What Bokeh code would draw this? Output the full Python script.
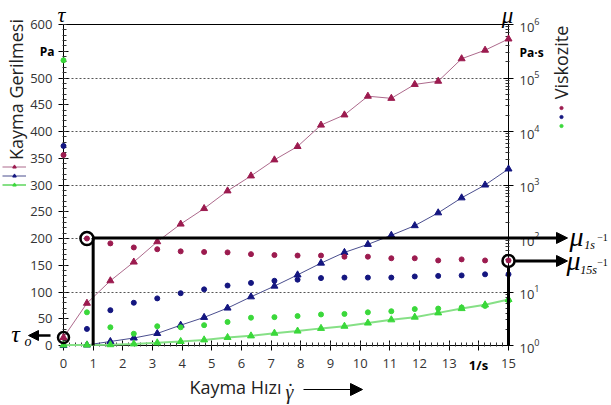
import math
from bokeh.plotting import figure
from bokeh.models import (Range1d, LogScale, LogAxis, FixedTicker, LogTickFormatter, Label,
                          Arrow, NormalHead, Legend, LegendItem, ColumnDataSource, GridBox)
from bokeh.embed import file_html
from bokeh.resources import INLINE

# ---------------- data ----------------
shear_rate = [0, 0.79, 1.58, 2.37, 3.16, 3.95, 4.74, 5.53, 6.32, 7.11,
              7.89, 8.68, 9.47, 10.26, 11.05, 11.84, 12.63, 13.42, 14.21, 15]
tau_red = [15, 79, 121, 156, 194, 227, 256, 289, 317, 347,
           372, 412, 431, 466, 462, 488, 494, 536, 552, 573]
tau_blue = [0, 1, 7.5, 14, 22.5, 38, 52.5, 70, 91, 111,
            132, 154, 174, 189, 206, 224, 248, 276, 300, 330]
tau_green = [1, 1, 1.5, 3, 5, 7.5, 10.5, 15, 18, 23,
             27, 32, 36, 42, 48, 53, 61, 69, 76, 86]
mu_red = [3630, 100, 81, 68, 63, 57.5, 56, 55, 51, 49,
          48, 48, 45.7, 45.7, 42.7, 42.7, 38.9, 40.7, 38.9, 38.9]
mu_blue = [5370, 2.04, 4.57, 6.3, 7.6, 9.5, 11.2, 13.2, 14.8, 16.2,
           17.0, 18.2, 18.6, 18.6, 18.6, 19.5, 20.0, 20.4, 21.4, 21.4]
mu_green = [214000, 4.17, 2.19, 1.66, 2.29, 2.19, 2.40, 2.75, 3.31, 3.39,
            3.55, 3.80, 3.89, 4.17, 4.37, 4.79, 4.90, 5.13, 5.50, 6.92]

tau_ticks = [0, 50, 100, 150, 200, 250, 300, 350, 400, 450, 500, 550, 600]
gamma_ticks = [0, 1, 2, 3, 4, 5, 6, 7, 8, 9, 10, 11, 12, 13, 14, 15]
mu_ticks = [1, 10, 100, 1000, 10000, 100000, 1000000]
grid_levels = [100, 200, 300, 400, 500]

gamma_1 = 1          # 1 1/s
mu1_level = 201      # viscosity at 1 1/s (left-axis units)
gamma_15 = 15
mu15_level = 158
circle_x = [0.79, 0, 15]
circle_y = [200, 15, 158]

# ---------------- geometry / style ----------------
W, H = 611, 405
FL, FR, FT, FB = 63, 508, 24, 345          # frame edges in page pixels
XR, YR, MUR = (0, 15), (0, 600), (1, 1e6)
SX = (FR - FL) / (XR[1] - XR[0])
SY = (FB - FT) / (YR[1] - YR[0])

def dx(xp):
    return XR[0] + (xp - FL) / SX

def dy(yp):
    return YR[0] + (FB - yp) / SY

RED, RED_L = "#9c1b4f", "#ad6a8c"
BLUE, BLUE_L = "#141680", "#4a4e8e"
GREEN, GREEN_L = "#3ad83a", "#86e086"
TXT = "#333333"
SANS = "Open Sans"
SERIF = "Liberation Serif"

# ---------------- base figure: axes + grid ----------------
base = figure(width=W, height=H, output_backend="svg", toolbar_location=None,
              x_range=Range1d(*XR), y_range=Range1d(*YR),
              min_border_left=FL, min_border_right=W - FR, min_border_top=FT,
              min_border_bottom=H - FB)
base.extra_y_ranges = {"mu": Range1d(*MUR)}
base.extra_y_scales = {"mu": LogScale()}
base.outline_line_color = "black"
base.background_fill_color = "white"
base.border_fill_color = "white"
base.xgrid.visible = False
base.ygrid.ticker = FixedTicker(ticks=grid_levels)
base.ygrid.grid_line_color = "#555555"
base.ygrid.grid_line_dash = "2 2"

def style_axis(ax):
    ax.axis_line_color = "black"
    ax.major_tick_line_color = "black"
    ax.minor_tick_line_color = "#333333"
    ax.major_tick_in = 5
    ax.major_tick_out = 5
    ax.minor_tick_in = 3
    ax.minor_tick_out = 1
    ax.major_label_text_font = SANS
    ax.major_label_text_font_size = "13px"
    ax.major_label_text_color = TXT

ya = base.yaxis[0]
ya.ticker = FixedTicker(ticks=tau_ticks, minor_ticks=list(range(0, 601, 10)))
ya.major_label_overrides = {550: ""}
ya.major_label_standoff = 6
style_axis(ya)

xa = base.xaxis[0]
xa.ticker = FixedTicker(ticks=gamma_ticks, minor_ticks=[i * 0.2 for i in range(76)])
xa.major_label_overrides = {14: ""}
xa.major_label_standoff = 8
style_axis(xa)

ra = LogAxis(y_range_name="mu")
ra.ticker = FixedTicker(ticks=mu_ticks,
                        minor_ticks=[k * 10 ** d for d in range(6) for k in range(2, 10)])
ra.formatter = LogTickFormatter(min_exponent=0)
ra.major_label_standoff = 6
style_axis(ra)
base.add_layout(ra, "right")

# ---------------- overlay figure: same mapping over the whole page ----------------
ox = (dx(0), dx(W))
oy = (dy(H), dy(0))
dec = (math.log10(MUR[1]) - math.log10(MUR[0])) / (YR[1] - YR[0])
omu = (10 ** (math.log10(MUR[0]) + (oy[0] - YR[0]) * dec),
       10 ** (math.log10(MUR[0]) + (oy[1] - YR[0]) * dec))

p = figure(width=W, height=H, output_backend="svg", toolbar_location=None,
           x_range=Range1d(*ox), y_range=Range1d(*oy),
           x_axis_location=None, y_axis_location=None, min_border=0,
           min_border_left=0, min_border_right=0, min_border_top=0, min_border_bottom=0)
p.extra_y_ranges = {"mu": Range1d(*omu)}
p.extra_y_scales = {"mu": LogScale()}
p.grid.visible = False
p.outline_line_color = None
p.background_fill_color = None
p.border_fill_color = None

for fig in (base, p):
    if "frame_align" in fig.properties():
        fig.frame_align = False

src = ColumnDataSource(dict(x=shear_rate, tr=tau_red, tb=tau_blue, tg=tau_green,
                            mr=mu_red, mb=mu_blue, mg=mu_green))

lr = p.line("x", "tr", source=src, color=RED_L, line_width=1)
lb = p.line("x", "tb", source=src, color=BLUE_L, line_width=1)
lg = p.line("x", "tg", source=src, color=GREEN_L, line_width=2)
tr = p.scatter("x", "tr", source=src, marker="triangle", size=7, color=RED)
tb = p.scatter("x", "tb", source=src, marker="triangle", size=7, color=BLUE)
tg = p.scatter("x", "tg", source=src, marker="triangle", size=7, color=GREEN)
dr = p.scatter("x", "mr", source=src, y_range_name="mu", marker="circle", size=5, color=RED)
db = p.scatter("x", "mb", source=src, y_range_name="mu", marker="circle", size=5, color=BLUE)
dg = p.scatter("x", "mg", source=src, y_range_name="mu", marker="circle", size=5, color=GREEN)

# thick reference lines and arrows
p.segment(x0=[gamma_1], y0=[0], x1=[gamma_1], y1=[mu1_level], color="black", line_width=3)
p.segment(x0=[gamma_15], y0=[0], x1=[gamma_15], y1=[mu15_level - 11], color="black", line_width=3)

def arrow(x0, y0, x1, y1, w=3, head=10):
    p.add_layout(Arrow(x_start=x0, y_start=y0, x_end=x1, y_end=y1, line_width=w,
                       line_color="black",
                       end=NormalHead(size=head, fill_color="black", line_color="black", line_width=1)))

arrow(gamma_1, mu1_level, dx(567), mu1_level, 3, 11)
arrow(gamma_15 + 0.22, mu15_level, dx(567), mu15_level, 3, 11)
arrow(dx(50), dy(335), dx(28), dy(335), 2.5, 10)
arrow(dx(303), dy(389), dx(362), dy(389), 1, 12)

p.scatter(circle_x, circle_y, marker="circle", size=[13, 11, 12], fill_color=None,
          line_color="black", line_width=2.5)

# texts
def lab(xp, yp, text, size, font=SANS, style="normal", color="#222222", angle=0,
        align="center", baseline="middle"):
    p.add_layout(Label(x=dx(xp), y=dy(yp), text=text, text_font=font, text_font_size=size,
                       text_font_style=style, text_color=color, angle=angle,
                       text_align=align, text_baseline=baseline))

lab(15, 89, "Kayma Gerilmesi", "18px", angle=math.pi / 2)
lab(560, 62, "Viskozite", "18px", angle=math.pi / 2)
lab(235, 386, "Kayma Hızı", "18px")
lab(289, 391, "\u03b3", "20px", font=SERIF, style="italic")
lab(290, 379, ".", "18px", font=SERIF, color="#222222", baseline="alphabetic")
lab(54, 51, "Pa", "12px", style="bold", color="black", align="right")
lab(478, 364, "1/s", "13px", style="bold", color="black")
lab(519, 52, "Pa·s", "12px", style="bold", color="black", align="left")
lab(61, 14, "\u03c4", "22px", font=SERIF, style="italic", color="black")
lab(507, 15, "\u03bc", "23px", font=SERIF, style="italic", color="black")
lab(15, 333, "\u03c4", "24px", font=SERIF, style="italic", color="black")
lab(27.5, 341, "o", "14px", font=SERIF, style="italic", color="black")
lab(576, 236, "\u03bc", "28px", font=SERIF, style="italic", color="black")
lab(589, 244, "1s", "12px", font=SERIF, style="italic", color="black")
lab(602, 237, "\u22121", "10px", font=SERIF, color="black")
lab(573, 260, "\u03bc", "28px", font=SERIF, style="italic", color="black")
lab(588, 269, "15s", "12px", font=SERIF, style="italic", color="black")
lab(602, 262, "\u22121", "10px", font=SERIF, color="black")

# legends (no text, glyph samples only)
common = dict(glyph_height=9, label_height=9, label_width=0, label_standoff=0, spacing=0,
              padding=0, margin=0, label_text_font_size="2px",
              background_fill_alpha=0, border_line_alpha=0)
leg1 = Legend(items=[LegendItem(label=" ", renderers=[lr, tr]),
                     LegendItem(label=" ", renderers=[lb, tb]),
                     LegendItem(label=" ", renderers=[lg, tg])],
              location=(2, H - 188.5), glyph_width=24, **common)
leg2 = Legend(items=[LegendItem(label=" ", renderers=[dr]),
                     LegendItem(label=" ", renderers=[db]),
                     LegendItem(label=" ", renderers=[dg])],
              location=(557, H - 129.5), glyph_width=8, **common)
p.add_layout(leg1)
p.add_layout(leg2)

layout = GridBox(children=[(base, 0, 0), (p, 0, 0)])
open("out.html", "w").write(file_html(layout, INLINE))
